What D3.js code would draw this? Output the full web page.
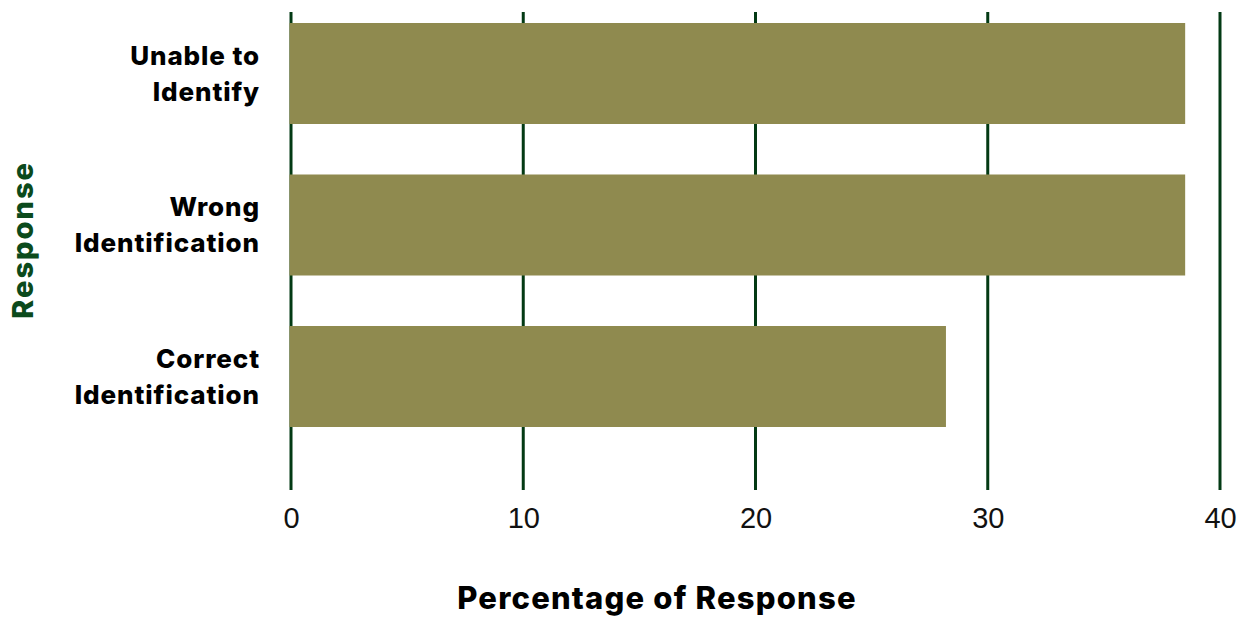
<!DOCTYPE html>
<html>
<head>
<meta charset="utf-8">
<script src="https://cdn.jsdelivr.net/npm/d3@7"></script>
<style>
  html, body { margin: 0; padding: 0; background: #fff; }
  svg { display: block; font-family: "Inter", "Open Sans", sans-serif; }
</style>
</head>
<body>
<svg id="chart" width="1246" height="619"></svg>
<script>
// Response categories (top to bottom) and their shares in percent
const categories = [["Unable to", "Identify"], ["Wrong", "Identification"], ["Correct", "Identification"]];
const categoryKeys = ["Unable to Identify", "Wrong Identification", "Correct Identification"];
const percentages = [38.5, 38.5, 28.2];
const xTicks = [0, 10, 20, 30, 40];

const svg = d3.select("#chart");
const barColor = "#8f8a4f";
const gridColor = "#033a14";

const x = d3.scaleLinear().domain([0, 40]).range([291, 1220]);
const y = d3.scaleBand()
  .domain(categoryKeys)
  .range([-2.25, 452.25])
  .paddingInner(1 / 3)
  .paddingOuter(1 / 6);

const gridTop = 12, gridBottom = 490;

// vertical grid lines behind the bars
svg.append("g")
  .selectAll("line")
  .data(xTicks)
  .join("line")
  .attr("x1", d => x(d)).attr("x2", d => x(d))
  .attr("y1", gridTop).attr("y2", gridBottom)
  .attr("stroke", gridColor)
  .attr("stroke-width", 3);

// bars
svg.append("g")
  .selectAll("rect")
  .data(percentages)
  .join("rect")
  .attr("x", x(0) - 1.5)
  .attr("y", (d, i) => y(categoryKeys[i]))
  .attr("width", d => x(d) - x(0) + 1.5)
  .attr("height", y.bandwidth())
  .attr("fill", barColor);

// x axis tick labels
const xAxis = d3.axisBottom(x).tickValues(xTicks).tickSize(0).tickPadding(0);
const gx = svg.append("g").attr("transform", `translate(0, 518)`).call(xAxis);
gx.select(".domain").remove();
gx.selectAll("text")
  .attr("dy", "0.36em")
  .attr("font-size", 29)
  .attr("font-family", "'Liberation Sans', Arial, sans-serif")
  .attr("fill", "#111");

// category labels, two lines each
const labels = svg.append("g")
  .selectAll("text")
  .data(categories)
  .join("text")
  .attr("text-anchor", "end")
  .attr("font-size", 26)
  .attr("font-weight", 800)
  .attr("letter-spacing", 0.9)
  .attr("fill", "#000")
  .attr("transform", (d, i) => `translate(260, ${y(categoryKeys[i]) + y.bandwidth() / 2})`);
labels.selectAll("tspan")
  .data(d => d)
  .join("tspan")
  .attr("x", 0)
  .attr("y", (d, i) => (i - 0.5) * 36)
  .attr("dy", "0.36em")
  .text(d => d);

// axis titles
svg.append("text")
  .attr("x", 657).attr("y", 598)
  .attr("dy", "0.36em")
  .attr("text-anchor", "middle")
  .attr("font-size", 31)
  .attr("font-weight", 800)
  .attr("letter-spacing", 1.2)
  .attr("fill", "#000")
  .text("Percentage of Response");

svg.append("text")
  .attr("transform", "translate(23, 240) rotate(-90)")
  .attr("dy", "0.36em")
  .attr("text-anchor", "middle")
  .attr("font-size", 29)
  .attr("font-weight", 800)
  .attr("letter-spacing", 2)
  .attr("fill", "#0b4a1c")
  .text("Response");
</script>
</body>
</html>
